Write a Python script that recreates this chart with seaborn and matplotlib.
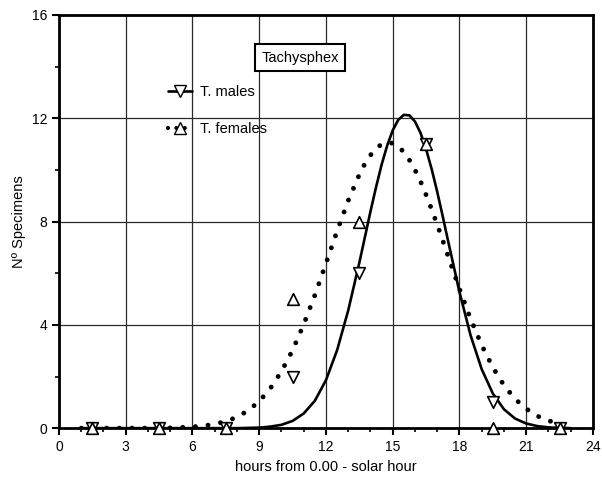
import matplotlib
matplotlib.use("Agg")
import matplotlib.pyplot as plt
from matplotlib.lines import Line2D
import seaborn as sns
import pandas as pd

# observed counts (sampling hours)
hours = [1.5, 4.5, 7.5, 10.5, 13.5, 16.5, 19.5, 22.5]
males = [0, 0, 0, 2, 6, 11, 1, 0]
females = [0, 0, 0, 5, 8, 11, 0, 0]

# fitted curves, values
fit_x = [1.0, 1.5, 2.0, 2.5, 3.0, 3.5, 4.0, 4.5, 5.0, 5.5, 6.0, 6.5, 7.0, 7.5,
         8.0, 8.5, 9.0, 9.5, 10.0, 10.5, 11.0, 11.5, 12.0, 12.5, 13.0, 13.5,
         13.75, 14.0, 14.25, 14.5, 14.75, 15.0, 15.25, 15.5, 15.75, 16.0,
         16.25, 16.5, 16.75, 17.0, 17.25, 17.5, 18.0, 18.5, 19.0,
         19.5, 20.0, 20.5, 21.0, 21.5, 22.0, 22.5, 23.0]
fit_males = [0, 0, 0, 0, 0, 0, 0, 0, 0, 0, 0, 0, 0, 0,
             0.0, 0.01, 0.02, 0.06, 0.13, 0.28, 0.57, 1.06, 1.86, 3.02, 4.56, 6.41,
             7.40, 8.39, 9.33, 10.20, 10.94, 11.53, 11.94, 12.13, 12.11, 11.87,
             11.43, 10.80, 10.03, 9.15, 8.19, 7.20, 5.27, 3.59, 2.28,
             1.34, 0.73, 0.37, 0.18, 0.08, 0.03, 0.01, 0.0]
fit_females = [0, 0, 0, 0, 0, 0, 0.0, 0.01, 0.01, 0.03, 0.05, 0.09, 0.16, 0.26,
               0.43, 0.68, 1.04, 1.54, 2.20, 3.02, 4.02, 5.15, 6.38, 7.63, 8.81, 9.82,
               10.24, 10.57, 10.83, 10.99, 11.06, 11.03, 10.90, 10.69, 10.38, 10.00,
               9.55, 9.03, 8.47, 7.88, 7.26, 6.63, 5.39, 4.23, 3.21,
               2.35, 1.66, 1.13, 0.75, 0.47, 0.29, 0.17, 0.10]

obs = pd.DataFrame({"hour": hours, "males": males, "females": females})
fit = pd.DataFrame({"x": fit_x, "males": fit_males, "females": fit_females})

sns.set_style("ticks")
plt.rcParams["font.family"] = ["Liberation Sans", "DejaVu Sans"]
plt.rcParams["text.color"] = "black"
plt.rcParams["axes.labelcolor"] = "black"
plt.rcParams["xtick.color"] = "black"
plt.rcParams["ytick.color"] = "black"

fig = plt.figure(figsize=(6.02, 4.8), dpi=100)
ax = fig.add_axes([0.098, 0.108, 0.887, 0.861])

sns.lineplot(data=fit, x="x", y="males", ax=ax, color="black", lw=1.9, zorder=3)
sns.lineplot(data=fit, x="x", y="females", ax=ax, color="black", lw=3.5,
             linestyle=(0, (0.01, 2.6)), dash_capstyle="round", zorder=3)

sns.scatterplot(data=obs, x="hour", y="males", ax=ax, marker="v", s=70,
                facecolor="white", edgecolor="black", linewidth=1.2, zorder=4, clip_on=False)
sns.scatterplot(data=obs, x="hour", y="females", ax=ax, marker="^", s=70,
                facecolor="white", edgecolor="black", linewidth=1.2, zorder=4, clip_on=False)

ax.set_xlim(0, 24)
ax.set_ylim(0, 16)
ax.set_xticks(range(0, 25, 3))
ax.set_yticks(range(0, 17, 4))
ax.set_xticks(range(0, 25), minor=True)
ax.set_yticks(range(0, 17, 2), minor=True)
ax.grid(True, which="major", color="#2a2a2a", lw=0.9)
ax.tick_params(which="major", length=5, width=1.5, labelsize=10, direction="out")
ax.tick_params(which="minor", length=3, width=1.2, direction="out")
for sp in ax.spines.values():
    sp.set_visible(True)
    sp.set_linewidth(2)
    sp.set_color("black")
ax.set_xlabel("hours from 0.00 - solar hour", fontsize=10.5)
ax.set_ylabel("Nº Specimens", fontsize=10.5)

ax.text(10.83, 14.34, "Tachysphex", fontsize=10.5, ha="center", va="center",
        bbox=dict(boxstyle="square,pad=0.45", fc="white", ec="black", lw=1.5), zorder=5)

handles = [
    Line2D([], [], color="black", lw=1.9, marker="v", ms=8, mfc="white", mec="black"),
    Line2D([], [], color="black", lw=3, linestyle=(0, (0.01, 2)), dash_capstyle="round",
           marker="^", ms=8, mfc="white", mec="black"),
]
ax.legend(handles, ["T. males", "T. females"], loc="upper left",
          bbox_to_anchor=(0.18, 0.862), frameon=False, fontsize=10.5,
          handlelength=1.6, labelspacing=1.6, handletextpad=0.6)

fig.savefig("out.png", dpi=100)
